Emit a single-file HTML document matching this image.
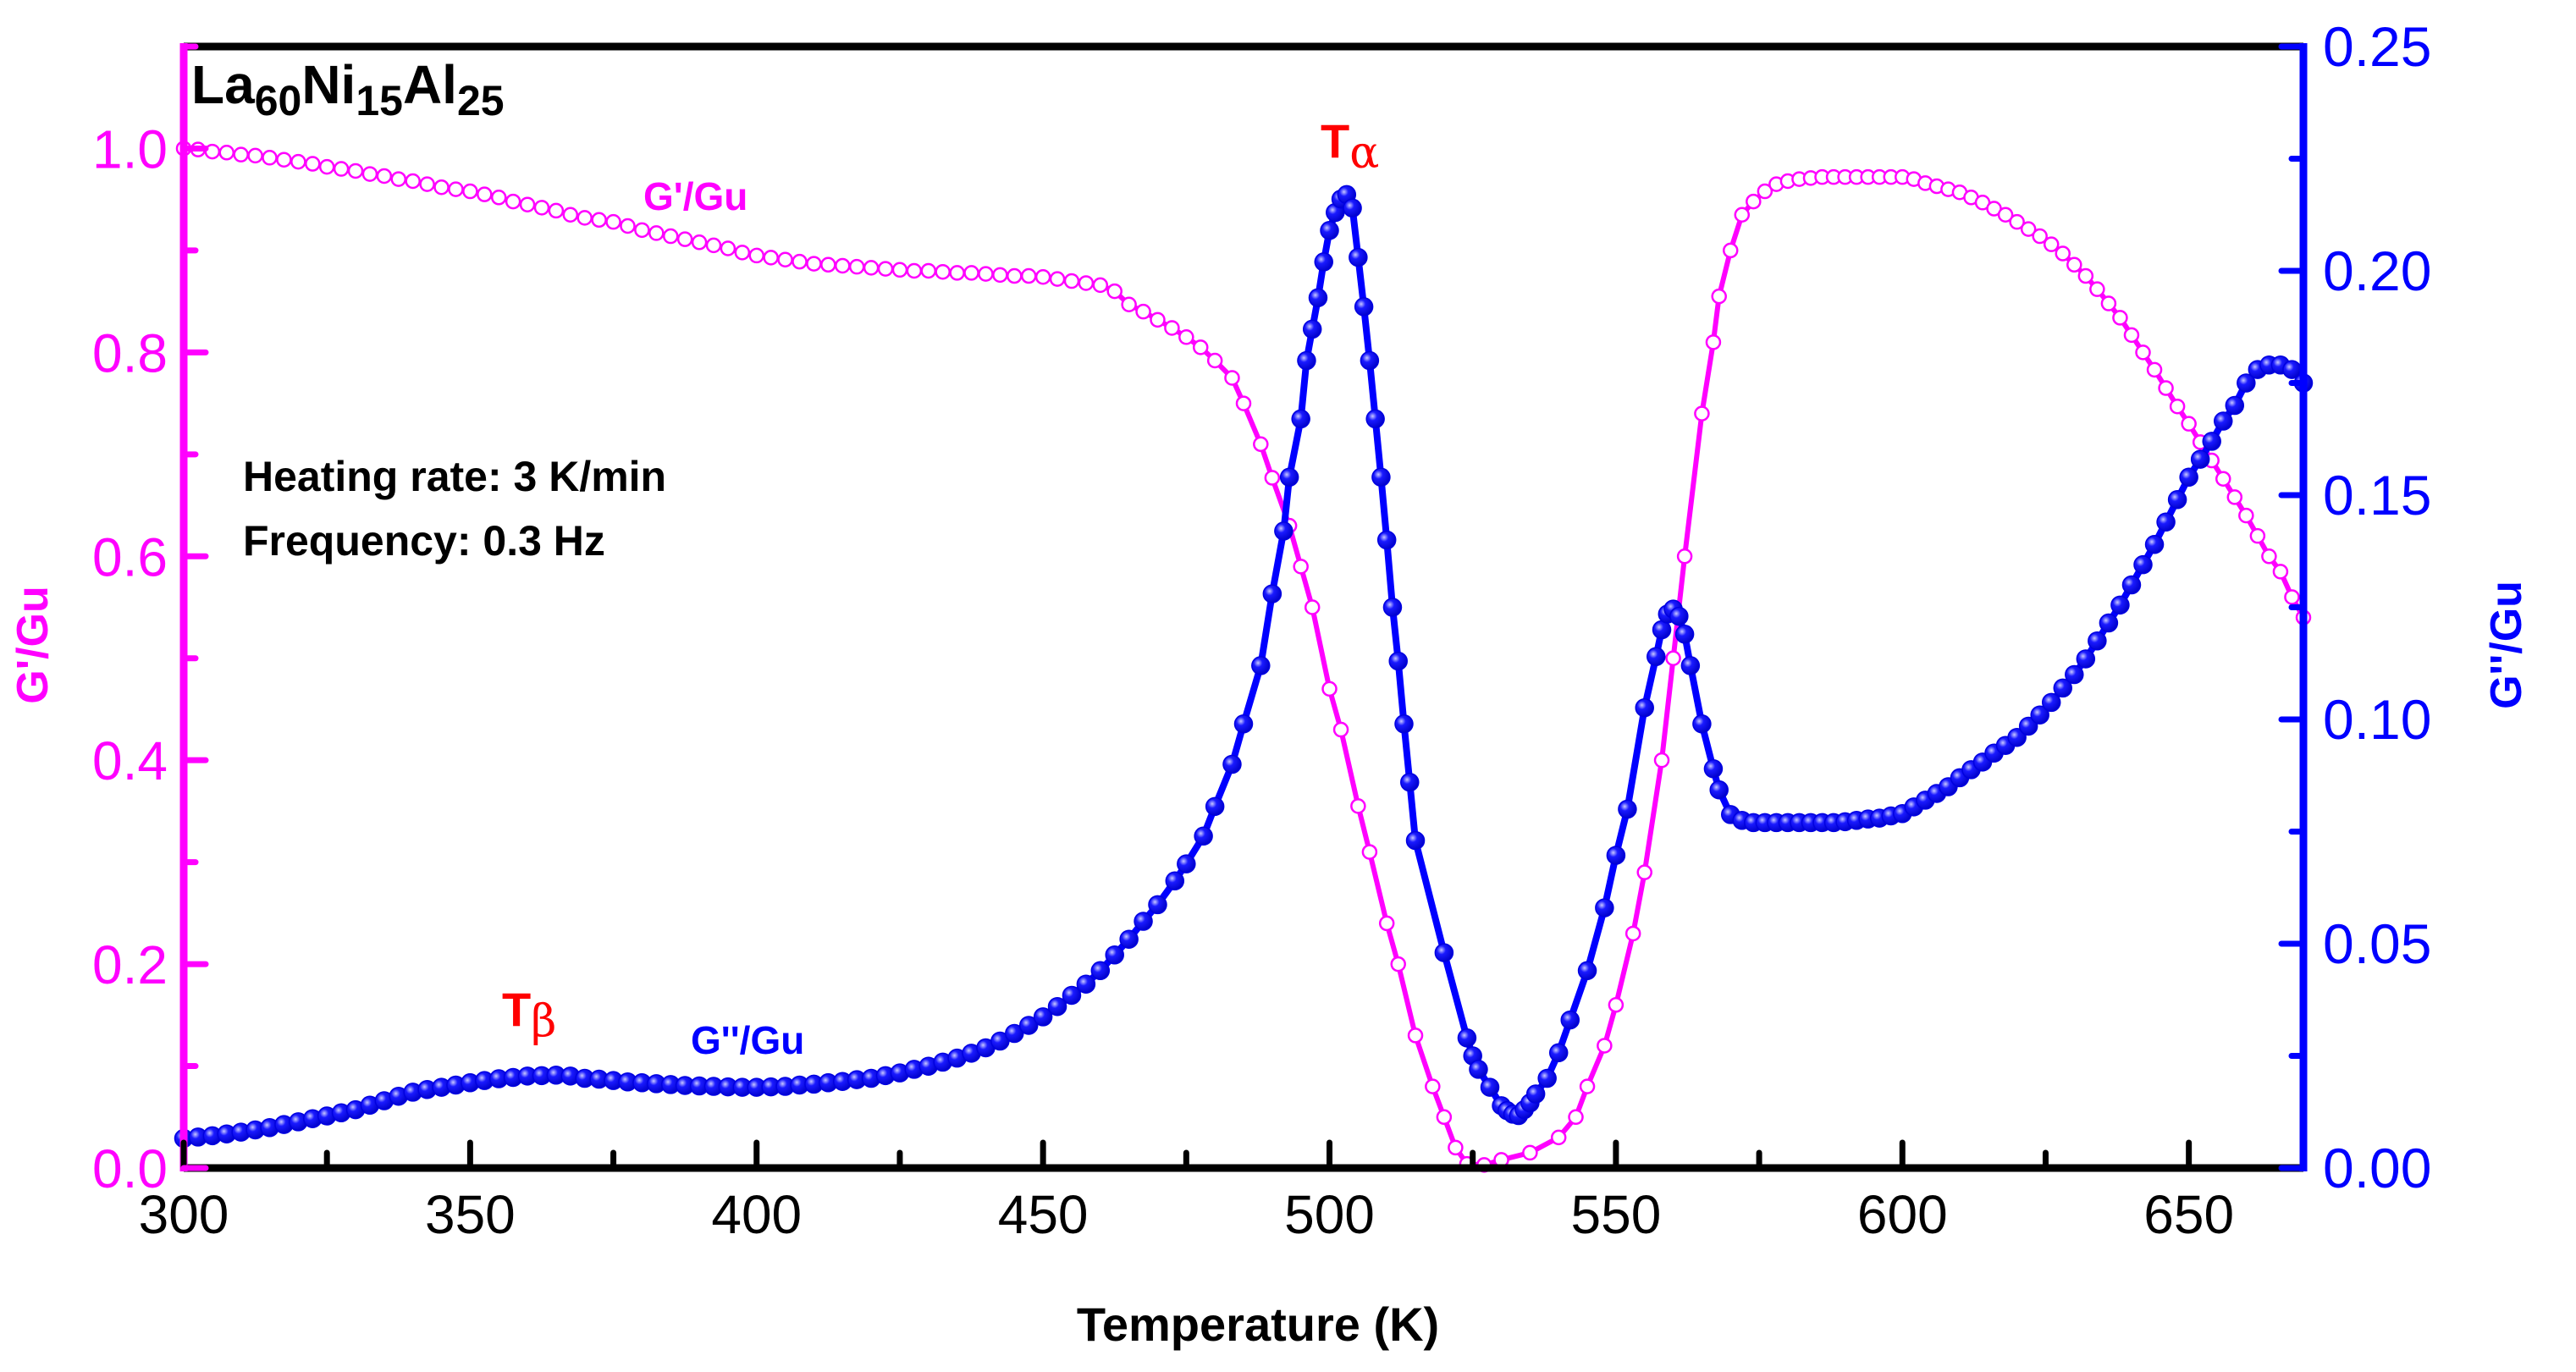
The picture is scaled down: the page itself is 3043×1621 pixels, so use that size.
<!DOCTYPE html>
<html><head><meta charset="utf-8"><style>
html,body{margin:0;padding:0;background:#fff;}
svg{display:block;font-family:"Liberation Sans",Arial,sans-serif;}
</style></head><body>
<svg id="chart" width="3043" height="1621" viewBox="0 0 3043 1621" xmlns="http://www.w3.org/2000/svg">
<defs>
<radialGradient id="ball" cx="0.35" cy="0.35" r="0.7">
<stop offset="0" stop-color="#c8c8ff"/><stop offset="0.35" stop-color="#1a1aff"/><stop offset="1" stop-color="#0000c8"/>
</radialGradient>
</defs>
<g id="marks"></g>
<g id="axes"></g>
<text x="226" y="122" font-size="64" font-weight="bold" fill="#000">La<tspan font-size="50" dy="14">60</tspan><tspan dy="-14">Ni</tspan><tspan font-size="50" dy="14">15</tspan><tspan dy="-14">Al</tspan><tspan font-size="50" dy="14">25</tspan></text>
<text x="287" y="580" font-size="50" font-weight="bold" fill="#000">Heating rate: 3 K/min</text>
<text x="287" y="656" font-size="50" font-weight="bold" fill="#000">Frequency: 0.3 Hz</text>
<text x="760" y="248" font-size="46" font-weight="bold" fill="#ff00ff">G'/Gu</text>
<text x="816" y="1245" font-size="46" font-weight="bold" fill="#0000ff">G''/Gu</text>
<text x="593" y="1212" font-size="56" font-weight="bold" fill="#ff0000">T<tspan font-size="52" font-weight="normal" dy="12" font-family="DejaVu Serif, serif">β</tspan></text>
<text x="1560" y="186" font-size="56" font-weight="bold" fill="#ff0000">T<tspan font-size="52" font-weight="normal" dy="12" font-family="DejaVu Serif, serif">α</tspan></text>
<text x="1486" y="1584" font-size="56" font-weight="bold" text-anchor="middle" fill="#000">Temperature (K)</text>
<text transform="translate(56,762) rotate(-90)" font-size="52" font-weight="bold" text-anchor="middle" fill="#ff00ff">G'/Gu</text>
<text transform="translate(2978,762) rotate(-90)" font-size="52" font-weight="bold" text-anchor="middle" fill="#0000ff">G''/Gu</text>
</svg>
<script>
const storageT = [300,302.5,305,307.5,310,312.5,315,317.5,320,322.5,325,327.5,330,332.5,335,337.5,340,342.5,345,347.5,350,352.5,355,357.5,360,362.5,365,367.5,370,372.5,375,377.5,380,382.5,385,387.5,390,392.5,395,397.5,400,402.5,405,407.5,410,412.5,415,417.5,420,422.5,425,427.5,430,432.5,435,437.5,440,442.5,445,447.5,450,452.5,455,457.5,460,462.5,465,467.5,470,472.5,475,477.5,480,483,485,488,490,493,495,497,500,502,505,507,510,512,515,518,520,522,524,527,530,535,540,543,545,548,550,553,555,558,560,562,565,567,568,570,572,574,576,578,580,582,584,586,588,590,592,594,596,598,600,602,604,606,608,610,612,614,616,618,620,622,624,626,628,630,632,634,636,638,640,642,644,646,648,650,652,654,656,658,660,662,664,666,668,670];
const storageVal = [1.0,0.999,0.997,0.996,0.994,0.993,0.991,0.989,0.987,0.985,0.982,0.98,0.978,0.975,0.973,0.97,0.968,0.965,0.962,0.96,0.958,0.955,0.952,0.948,0.945,0.942,0.939,0.935,0.932,0.93,0.928,0.924,0.92,0.917,0.914,0.911,0.908,0.905,0.902,0.898,0.895,0.893,0.891,0.889,0.887,0.886,0.885,0.884,0.883,0.882,0.881,0.88,0.88,0.879,0.878,0.878,0.877,0.876,0.875,0.875,0.874,0.872,0.87,0.868,0.866,0.86,0.847,0.84,0.832,0.824,0.815,0.805,0.792,0.775,0.75,0.71,0.677,0.63,0.59,0.55,0.47,0.43,0.355,0.31,0.24,0.2,0.13,0.08,0.05,0.02,0.004,0.003,0.008,0.015,0.03,0.05,0.08,0.12,0.16,0.23,0.29,0.4,0.5,0.6,0.74,0.81,0.855,0.9,0.935,0.948,0.958,0.965,0.968,0.97,0.971,0.972,0.972,0.972,0.972,0.972,0.972,0.972,0.972,0.97,0.966,0.963,0.96,0.957,0.952,0.947,0.941,0.935,0.928,0.921,0.914,0.906,0.897,0.886,0.875,0.862,0.848,0.834,0.817,0.8,0.783,0.765,0.747,0.73,0.712,0.694,0.676,0.658,0.64,0.62,0.6,0.585,0.56,0.54];
const lossT = [300,302.5,305,307.5,310,312.5,315,317.5,320,322.5,325,327.5,330,332.5,335,337.5,340,342.5,345,347.5,350,352.5,355,357.5,360,362.5,365,367.5,370,372.5,375,377.5,380,382.5,385,387.5,390,392.5,395,397.5,400,402.5,405,407.5,410,412.5,415,417.5,420,422.5,425,427.5,430,432.5,435,437.5,440,442.5,445,447.5,450,452.5,455,457.5,460,462.5,465,467.5,470,473,475,478,480,483,485,488,490,492,493,495,496,497,498,499,500,501,502,503,504,505,506,507,508,509,510,511,512,513,514,515,520,524,525,526,528,530,531,532,533,534,535,536,538,540,542,545,548,550,552,555,557,558,559,560,561,562,563,565,567,568,570,572,574,576,578,580,582,584,586,588,590,592,594,596,598,600,602,604,606,608,610,612,614,616,618,620,622,624,626,628,630,632,634,636,638,640,642,644,646,648,650,652,654,656,658,660,662,664,666,668,670];
const lossVal = [0.0066,0.0069,0.0072,0.0076,0.008,0.0085,0.009,0.0097,0.0103,0.011,0.0116,0.0123,0.013,0.014,0.015,0.016,0.0169,0.0175,0.018,0.0185,0.019,0.0195,0.0199,0.0202,0.0205,0.0206,0.0207,0.0205,0.020,0.0198,0.0195,0.0192,0.019,0.0188,0.0186,0.0184,0.0183,0.0182,0.0181,0.018,0.018,0.0181,0.0182,0.0185,0.0187,0.019,0.0193,0.0197,0.020,0.0206,0.0212,0.022,0.0227,0.0236,0.0245,0.0256,0.0268,0.0283,0.03,0.0318,0.0337,0.036,0.0385,0.041,0.044,0.0475,0.051,0.055,0.0587,0.064,0.0678,0.074,0.0806,0.09,0.099,0.112,0.128,0.142,0.154,0.167,0.18,0.187,0.194,0.202,0.209,0.213,0.216,0.217,0.214,0.203,0.192,0.18,0.167,0.154,0.14,0.125,0.113,0.099,0.086,0.073,0.048,0.029,0.025,0.022,0.018,0.0139,0.0128,0.012,0.0117,0.013,0.0145,0.0165,0.02,0.0257,0.033,0.044,0.058,0.0697,0.08,0.1026,0.114,0.12,0.1235,0.1246,0.123,0.119,0.112,0.099,0.089,0.0843,0.0788,0.0775,0.077,0.077,0.077,0.077,0.077,0.077,0.077,0.077,0.0772,0.0775,0.0778,0.078,0.0785,0.079,0.0805,0.082,0.0835,0.085,0.087,0.0888,0.0905,0.0925,0.0942,0.096,0.0985,0.101,0.1038,0.107,0.11,0.1135,0.1175,0.1215,0.1255,0.13,0.1345,0.139,0.144,0.149,0.154,0.158,0.162,0.1665,0.17,0.175,0.178,0.179,0.179,0.178,0.175];
const xTicks = [300,350,400,450,500,550,600,650];
const leftTicks = [0.0,0.2,0.4,0.6,0.8,1.0];
const leftTickLabels = ["0.0","0.2","0.4","0.6","0.8","1.0"];
const rightTicks = [0.0,0.05,0.1,0.15,0.2,0.25];
const rightTickLabels = ["0.00","0.05","0.10","0.15","0.20","0.25"];

const PL=217,PR=2721,PT=55,PB=1380;
const xMin=300,xMax=670,lMax=1.1,rMax=0.25;
function sx(v){return PL+(v-xMin)/(xMax-xMin)*(PR-PL);}
function syL(v){return PB-v/lMax*(PB-PT);}
function syR(v){return PB-v/rMax*(PB-PT);}
const NS="http://www.w3.org/2000/svg";
function mk(tag,attrs,parent){const e=document.createElementNS(NS,tag);for(const k in attrs)e.setAttribute(k,attrs[k]);parent.appendChild(e);return e;}
const marksG=document.getElementById('marks'), axesG=document.getElementById('axes');

let pathD=storageT.map((t,i)=>(i?'L':'M')+sx(t).toFixed(1)+' '+syL(storageVal[i]).toFixed(1)).join(' ');
const sl=mk('path',{d:pathD,fill:'none',stroke:'#ff00ff','stroke-width':6},marksG);


storageT.forEach((t,i)=>{
  const c=mk('circle',{cx:sx(t),cy:syL(storageVal[i]),r:8,fill:'#fff',stroke:'#ff00ff','stroke-width':2.5},marksG);
  
  
});
pathD=lossT.map((t,i)=>(i?'L':'M')+sx(t).toFixed(1)+' '+syR(lossVal[i]).toFixed(1)).join(' ');
const ll=mk('path',{d:pathD,fill:'none',stroke:'#0000ff','stroke-width':8},marksG);


lossT.forEach((t,i)=>{
  const c=mk('circle',{cx:sx(t),cy:syR(lossVal[i]),r:10.5,fill:'url(#ball)',stroke:'#0000e0','stroke-width':1.5},marksG);
  
  
});

const topAxis=mk('line',{x1:PL,y1:PT,x2:PR,y2:PT,stroke:'#000','stroke-width':9},axesG);


const botAxis=mk('line',{x1:PL,y1:PB,x2:PR,y2:PB,stroke:'#000','stroke-width':9},axesG);


const leftAxis=mk('line',{x1:PL,y1:PT-4,x2:PL,y2:PB+4,stroke:'#ff00ff','stroke-width':9},axesG);


const rightAxis=mk('line',{x1:PR,y1:PT-4,x2:PR,y2:PB+4,stroke:'#0000ff','stroke-width':9},axesG);



for(let v=325;v<xMax;v+=50){
  const t=mk('line',{x1:sx(v),y1:PB,x2:sx(v),y2:PB-18,stroke:'#000','stroke-width':7,'stroke-linecap':'round'},axesG);
  
  
}
xTicks.forEach(v=>{
  const t=mk('line',{x1:sx(v),y1:PB,x2:sx(v),y2:PB-30,stroke:'#000','stroke-width':7,'stroke-linecap':'round'},axesG);
  
  
  const tx=mk('text',{x:sx(v),y:1457,'font-size':64,'text-anchor':'middle',fill:'#000'},axesG);
  tx.textContent=String(v);
  
  
});
leftTicks.forEach((v,i)=>{
  const t=mk('line',{x1:PL,y1:syL(v),x2:PL+26,y2:syL(v),stroke:'#ff00ff','stroke-width':7,'stroke-linecap':'round'},axesG);
  
  
  const m=mk('line',{x1:PL,y1:syL(v+0.1),x2:PL+14,y2:syL(v+0.1),stroke:'#ff00ff','stroke-width':7,'stroke-linecap':'round'},axesG);
  
  
  const tx=mk('text',{x:198,y:syL(v)+23,'font-size':64,'text-anchor':'end',fill:'#ff00ff'},axesG);
  tx.textContent=leftTickLabels[i];
  
  
});
rightTicks.forEach((v,i)=>{
  const t=mk('line',{x1:PR,y1:syR(v),x2:PR-26,y2:syR(v),stroke:'#0000ff','stroke-width':7,'stroke-linecap':'round'},axesG);
  
  
  if(v<rMax){
    const m=mk('line',{x1:PR,y1:syR(v+0.025),x2:PR-14,y2:syR(v+0.025),stroke:'#0000ff','stroke-width':7,'stroke-linecap':'round'},axesG);
    
    
  }
  const tx=mk('text',{x:2744,y:syR(v)+23,'font-size':66,'text-anchor':'start',fill:'#0000ff'},axesG);
  tx.textContent=rightTickLabels[i];
  
  
});
</script>
</body></html>
